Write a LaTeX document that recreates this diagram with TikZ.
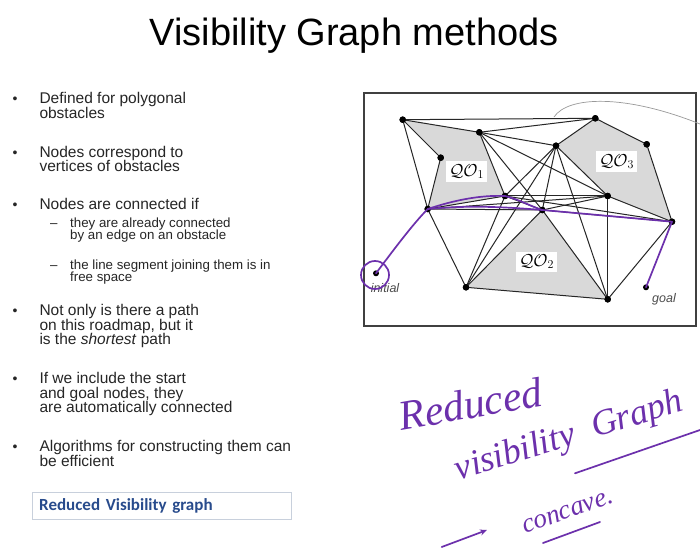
\documentclass[tikz,border=0pt]{standalone}
\usepackage{fontspec}
\setmainfont{Liberation Sans}
\newfontfamily\calibri{Carlito}
\newfontfamily\hand{Liberation Serif}
\usetikzlibrary{arrows.meta}
\definecolor{penc}{RGB}{108,48,172}
\definecolor{rvblue}{RGB}{40,75,140}
\definecolor{rvframe}{RGB}{200,208,220}
\begin{document}
\begin{tikzpicture}[x=1pt,y=-1pt,
  txt/.style={anchor=base west, inner sep=0pt, text=black!85, font=\fontsize{15.5}{14.5}\selectfont},
  subtxt/.style={anchor=base west, inner sep=0pt, text=black!85, font=\fontsize{13.3}{12}\selectfont},
  bul/.style={anchor=base, inner sep=0pt, text=black!85, font=\fontsize{14}{14}\selectfont},
  vdot/.style={circle, fill=black, inner sep=0pt, minimum size=6.5pt},
  vedge/.style={line width=1pt, black!85},
  obst/.style={fill=black!15},
  pen/.style={draw=penc, line width=1.7pt, line cap=round, line join=round},
  qo/.style={fill=white, inner sep=3pt, font=\fontsize{18}{18}\selectfont},
  hw/.style={text=penc, inner sep=0pt, anchor=base}
]
\useasboundingbox (0,0) rectangle (700,553);
\fill[white] (0,0) rectangle (700,553);

% title
\node[anchor=base, inner sep=0pt, font=\fontsize{38}{38}\selectfont] (title) at (354,46) {Visibility Graph methods};

% bullets
\node[bul] (d1) at (15,103.3) {•};
\node[txt] (t1a) at (39.3,103.3) {Defined for polygonal};
\node[txt] (t1b) at (39.3,118.3) {obstacles};
\node[bul] (d2) at (15,157.3) {•};
\node[txt] (t2a) at (39.3,157.3) {Nodes correspond to};
\node[txt] (t2b) at (39.3,171.7) {vertices of obstacles};
\node[bul] (d3) at (15,210) {•};
\node[txt] (t3a) at (39.3,210) {Nodes are connected if};
\node[subtxt] (s1d) at (50,227) {–};
\node[subtxt] (s1a) at (70,227) {they are already connected};
\node[subtxt] (s1b) at (70,239.3) {by an edge on an obstacle};
\node[subtxt] (s2d) at (50,269) {–};
\node[subtxt] (s2a) at (70,269) {the line segment joining them is in};
\node[subtxt] (s2b) at (70,281.7) {free space};
\node[bul] (d4) at (15,315.7) {•};
\node[txt] (t4a) at (39.3,315.7) {Not only is there a path};
\node[txt] (t4b) at (39.3,330) {on this roadmap, but it};
\node[txt] (t4c) at (39.3,344.3) {is the \textit{shortest} path};
\node[bul] (d5) at (15,383.3) {•};
\node[txt] (t5a) at (39.3,383.3) {If we include the start};
\node[txt] (t5b) at (39.3,398.3) {and goal nodes, they};
\node[txt] (t5c) at (39.3,412.7) {are automatically connected};
\node[bul] (d6) at (15,451.7) {•};
\node[txt] (t6a) at (39.3,451.7) {Algorithms for constructing them can};
\node[txt] (t6b) at (39.3,466) {be efficient};

% reduced visibility graph box
\node[draw=rvframe, line width=1pt, anchor=north west, minimum width=259pt, minimum height=27.6pt,
      text width=245pt, inner xsep=7pt, align=left, text=rvblue,
      font=\calibri\bfseries\fontsize{17}{17}\selectfont] (rv) at (31.7,491.7) {Reduced Visibility graph};

% ---- diagram ----
\draw[black!75, line width=1.6pt] (364,93) rectangle (696,326);

\coordinate (cA) at (402.7,119.7);
\coordinate (cB) at (479.3,132.3);
\coordinate (cC) at (595.3,118.3);
\coordinate (cD) at (440.7,157.7);
\coordinate (cE) at (556,145.7);
\coordinate (cF) at (646.7,144.3);
\coordinate (cG) at (427.7,209);
\coordinate (cH) at (505,196);
\coordinate (cI) at (607.7,196);
\coordinate (cJ) at (542.3,210);
\coordinate (cK) at (672,221.7);
\coordinate (cL) at (466,287.3);
\coordinate (cM) at (607.7,299.3);

\fill[obst] (cA) -- (cB) -- (cH) -- (cG) -- (cD) -- cycle;
\fill[obst] (cL) -- (cJ) -- (cM) -- cycle;
\fill[obst] (cE) -- (cC) -- (cF) -- (cK) -- (cI) -- cycle;

\node[vdot] (A) at (cA) {};
\node[vdot] (B) at (cB) {};
\node[vdot] (C) at (cC) {};
\node[vdot] (D) at (cD) {};
\node[vdot] (E) at (cE) {};
\node[vdot] (F) at (cF) {};
\node[vdot] (G) at (cG) {};
\node[vdot] (H) at (cH) {};
\node[vdot] (I) at (cI) {};
\node[vdot] (J) at (cJ) {};
\node[vdot] (K) at (cK) {};
\node[vdot] (L) at (cL) {};
\node[vdot] (M) at (cM) {};
\node[vdot, minimum size=6pt] (ini) at (376,273.3) {};
\node[vdot, minimum size=6pt] (goal) at (646,287.3) {};

% obstacle boundaries
\draw[vedge] (A.center) -- (B.center) -- (H.center) -- (G.center) -- (D.center) -- (A.center);
\draw[vedge] (L.center) -- (J.center) -- (M.center) -- (L.center);
\draw[vedge] (E.center) -- (C.center) -- (F.center) -- (K.center) -- (I.center) -- (E.center);
% visibility edges
\draw[vedge] (A.center) -- (C.center);
\draw[vedge] (A.center) -- (G.center);
\draw[vedge] (B.center) -- (C.center);
\draw[vedge] (B.center) -- (E.center);
\draw[vedge] (B.center) -- (I.center);
\draw[vedge] (B.center) -- (J.center);
\draw[vedge] (H.center) -- (I.center);
\draw[vedge] (H.center) -- (E.center);
\draw[vedge] (H.center) -- (J.center);
\draw[vedge] (H.center) -- (K.center);
\draw[vedge] (G.center) -- (L.center);
\draw[vedge] (G.center) -- (I.center);
\draw[vedge] (G.center) -- (J.center);
\draw[vedge] (L.center) -- (H.center);
\draw[vedge] (L.center) -- (E.center);
\draw[vedge] (E.center) -- (J.center);
\draw[vedge] (E.center) -- (M.center);
\draw[vedge] (J.center) -- (I.center);
\draw[vedge] (J.center) -- (K.center);
\draw[vedge] (M.center) -- (I.center);
\draw[vedge] (M.center) -- (K.center);

% obstacle labels
\node[qo] (q1) at (466.7,171.7) {$\mathcal{QO}_1$};
\node[qo] (q2) at (536.7,261.7) {$\mathcal{QO}_2$};
\node[qo] (q3) at (616.7,161.7) {$\mathcal{QO}_3$};

% redraw dots on top
\foreach \n in {A,B,C,D,E,F,G,H,I,J,K,L,M}{\fill[black] (\n.center) circle[radius=3.2pt];}

% initial / goal labels
\node[anchor=base, inner sep=0pt, text=black!70, font=\itshape\fontsize{12.5}{12.5}\selectfont] (inilab) at (385,292) {initial};
\node[anchor=base, inner sep=0pt, text=black!70, font=\itshape\fontsize{12.5}{12.5}\selectfont] (goallab) at (664,302) {goal};

% grey pen curve
\coordinate (gc1) at (554,117);
\coordinate (gc2) at (700,124);
\draw[black!40, line width=0.7pt, line cap=round] (gc1) .. controls (568,96) and (625,94) .. (gc2);

% purple pen path
\coordinate (cc) at (375,275);
\draw[pen] (cc) circle[radius=14pt];
\draw[pen] (ini.center) .. controls (392,252) and (412,225) .. (G.center);
\draw[pen] (G.center) .. controls (455,200) and (480,195) .. (H.center) .. controls (518,199) and (530,206) .. (J.center);
\draw[pen] (G.center) .. controls (470,205) and (505,207) .. (J.center) -- (K.center) -- (goal.center);

% handwriting
\node[hw, rotate=10, font=\hand\itshape\fontsize{42}{42}\selectfont] (hw1) at (473,418) {Reduced};
\node[hw, rotate=17, font=\hand\itshape\fontsize{36}{36}\selectfont] (hw2a) at (518,462) {visibility};
\node[hw, rotate=17, font=\hand\itshape\fontsize{36}{36}\selectfont] (hw2b) at (640,424) {Graph};
\coordinate (u1a) at (575,473.3);
\coordinate (u1b) at (700,430);
\draw[pen] (u1a) -- (u1b);
\node[hw, rotate=19.6, font=\hand\itshape\fontsize{27}{27}\selectfont] (hw3) at (570,518) {concave.};
\coordinate (ara) at (441.7,547);
\coordinate (arb) at (487,530);
\draw[pen, -{Stealth[length=7pt,width=6pt]}] (ara) -- (arb);
\coordinate (u2a) at (543,543);
\coordinate (u2b) at (600,522);
\draw[pen] (u2a) -- (u2b);
\end{tikzpicture}
\end{document}
